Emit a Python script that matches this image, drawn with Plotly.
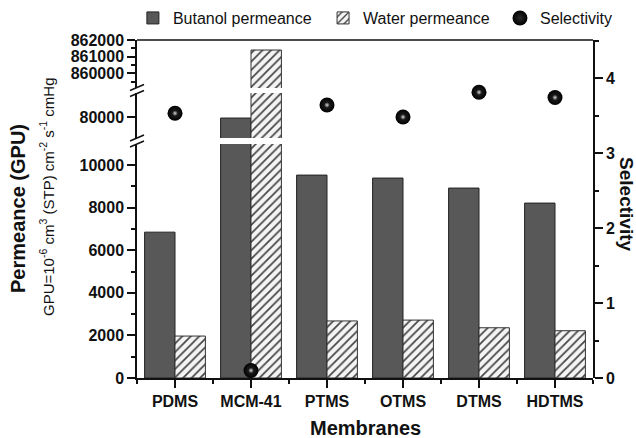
import plotly.graph_objects as go

membranes = ["PDMS", "MCM-41", "PTMS", "OTMS", "DTMS", "HDTMS"]
butanol = [6850, 79800, 9530, 9390, 8920, 8215]
water = [1970, 861400, 2680, 2720, 2360, 2220]
selectivity = [3.53, 0.10, 3.64, 3.48, 3.81, 3.74]

xpos = list(range(len(membranes)))

FONT = "Liberation Sans, Arial, sans-serif"
DARK = "#585858"

fig = go.Figure()

# three stacked segments of the broken left axis
segments = [("y", True), ("y3", False), ("y4", False)]
for yax, show in segments:
    fig.add_trace(go.Bar(
        x=xpos, y=butanol, yaxis=yax, xaxis="x", name="Butanol permeance",
        width=0.4, offset=-0.4, showlegend=show, legend="legend",
        marker=dict(color=DARK, line=dict(color="#222", width=1)),
    ))
    fig.add_trace(go.Bar(
        x=xpos, y=water, yaxis=yax, xaxis="x", name="Water permeance",
        width=0.4, offset=0.0, showlegend=show, legend="legend2",
        marker=dict(color="#f2f2f2", line=dict(color="#333", width=1),
                    pattern=dict(shape="/", fgcolor="#444", bgcolor="#f4f4f4",
                                 size=6, solidity=0.28, fillmode="replace")),
    ))

fig.add_trace(go.Scatter(
    x=xpos, y=selectivity, xaxis="x", yaxis="y2", mode="markers",
    name="Selectivity", legend="legend3",
    marker=dict(size=15, color="#000", line=dict(width=0),
                gradient=dict(type="radial", color="#2a2a2a")),
))
fig.add_trace(go.Scatter(
    x=xpos, y=selectivity, xaxis="x", yaxis="y2", mode="markers",
    showlegend=False, hoverinfo="skip",
    marker=dict(size=6, color="#0a0a0a", line=dict(width=0),
                gradient=dict(type="radial", color="#d8d8d8")),
))

tickfont = dict(family=FONT, size=16, color="#111", weight="bold")
common = dict(showline=True, linecolor="#111", linewidth=1.5, ticks="outside",
              ticklen=8, tickwidth=1.5, tickcolor="#111", showgrid=False,
              zeroline=False, tickfont=tickfont, tickformat="d")

D_BOT = [0, 0.6923]
D_MID = [0.710, 0.843]
D_TOP = [0.858, 1.0]

leg = dict(orientation="h", xanchor="left", y=1.065, yanchor="middle",
           font=dict(family=FONT, size=16, color="#111"), bgcolor="rgba(0,0,0,0)",
           itemwidth=30)

fig.update_layout(
    width=636, height=438,
    margin=dict(l=137, r=43, t=40, b=60, autoexpand=False),
    paper_bgcolor="white", plot_bgcolor="rgba(0,0,0,0)",
    font=dict(family=FONT, color="#111"),
    barmode="overlay",
    xaxis=dict(range=[-0.5, 5.5], tickmode="array", tickvals=xpos, ticktext=membranes,
               anchor="y", minor=dict(ticks="outside", ticklen=4, tickwidth=1.5,
                                      tickcolor="#111", tick0=0.5, dtick=1),
               **common),
    yaxis=dict(domain=D_BOT, range=[0, 10990], anchor="x", dtick=2000, tick0=0,
               minor=dict(ticks="outside", ticklen=4, tickwidth=1.5, tickcolor="#111", dtick=1000),
               **common),
    yaxis3=dict(domain=D_MID, range=[75800, 84800], anchor="x", tickmode="array",
                tickvals=[80000], ticktext=["80000"], **common),
    yaxis4=dict(domain=D_TOP, range=[859126, 862000], anchor="x", tickmode="array",
                tickvals=[860000, 861000, 862000], ticktext=["860000", "861000", "862000"],
                minor=dict(ticks="outside", ticklen=4, tickwidth=1.5, tickcolor="#111",
                           tickmode="array", tickvals=[859500, 860500, 861500]),
                **common),
    yaxis2=dict(domain=[0, 1], range=[0, 4.507], anchor="x", side="right", dtick=1, tick0=0,
                minor=dict(ticks="outside", ticklen=4, tickwidth=1.5, tickcolor="#111", dtick=0.5),
                **common),
    legend=dict(x=-0.009, **leg),
    legend2=dict(x=0.408, **leg),
    legend3=dict(x=0.796, **leg),
    showlegend=True,
)

shapes = [dict(type="line", xref="paper", yref="paper", x0=0, x1=1, y0=1, y1=1,
               line=dict(color="#111", width=1.5))]
# axis break marks
for yb in [(D_TOP[0] + D_MID[1]) / 2, (D_MID[0] + D_BOT[1]) / 2]:
    for dy in (-3, 3):
        shapes.append(dict(type="line", xref="paper", yref="paper",
                           xsizemode="pixel", ysizemode="pixel", xanchor=0, yanchor=yb,
                           x0=-7, x1=7, y0=dy - 3, y1=dy + 3,
                           line=dict(color="#111", width=1.5)))
fig.update_layout(shapes=shapes)

annotations = [
    dict(text="<b>Permeance (GPU)</b>", x=-0.261, y=0.503, textangle=-90,
         font=dict(size=20, family=FONT, color="#111")),
    dict(text="GPU=10<sup>-6</sup> cm<sup>3</sup> (STP) cm<sup>-2</sup> s<sup>-1</sup> cmHg",
         x=-0.197, y=0.536, textangle=-90, font=dict(size=15, family=FONT, color="#111")),
    dict(text="<b>Selectivity</b>", x=1.072, y=0.515, textangle=90,
         font=dict(size=19, family=FONT, color="#111")),
    dict(text="<b>Membranes</b>", x=0.5, y=-0.148,
         font=dict(size=20, family=FONT, color="#111")),
]
for a in annotations:
    a.update(xref="paper", yref="paper", showarrow=False, xanchor="center", yanchor="middle")
fig.update_layout(annotations=annotations)

fig.write_html("out.html")
